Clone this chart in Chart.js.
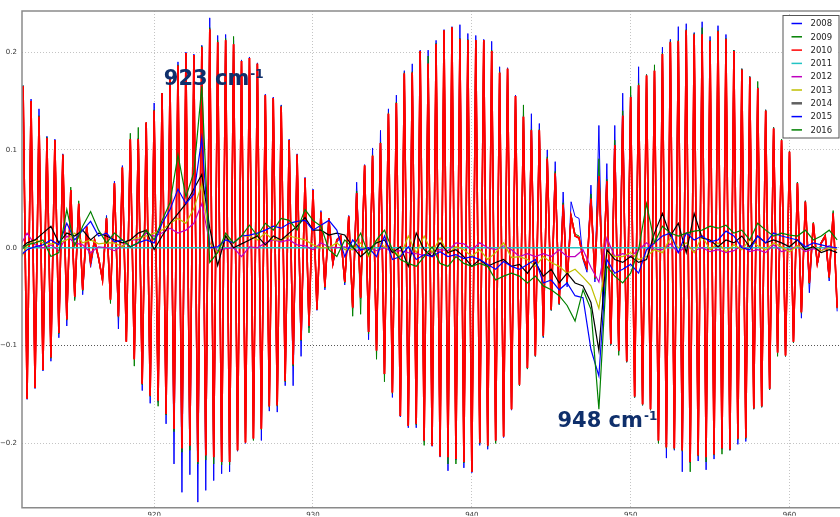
<!DOCTYPE html>
<html>
<head>
<meta charset="utf-8">
<script src="https://cdn.jsdelivr.net/npm/chart.js@4.4.0/dist/chart.umd.min.js"></script>
<style>
  html, body { margin: 0; padding: 0; background: #ffffff; overflow: hidden; }
  #wrap { position: relative; width: 840px; height: 517px; }
</style>
</head>
<body>
<div id="wrap"><canvas id="c" width="840" height="517"></canvas></div>
<script>
// ---------- DATA ----------
const seriesLabels = ['2008','2009','2010','2011','2012','2013','2014','2015','2016'];

// wavenumber grid (cm-1) of the oscillating series 2008-2010
const waveFine = [
  911.75,
  912,912.25,912.5,912.75, 913,913.25,913.5,913.75, 914,914.25,914.5,914.75, 915,915.25,915.5,915.75,
  916,916.25,916.5,916.75, 917,917.25,917.5,917.75, 918,918.25,918.5,918.75, 919,919.25,919.5,919.75,
  920,920.25,920.5,920.75, 921,921.25,921.5,921.75, 922,922.25,922.5,922.75, 923,923.25,923.5,923.75,
  924,924.25,924.5,924.75, 925,925.25,925.5,925.75, 926,926.25,926.5,926.75, 927,927.25,927.5,927.75,
  928,928.25,928.5,928.75, 929,929.25,929.5,929.75, 930,930.25,930.5,930.75, 931,931.25,931.5,931.75,
  932,932.25,932.5,932.75, 933,933.25,933.5,933.75, 934,934.25,934.5,934.75, 935,935.25,935.5,935.75,
  936,936.25,936.5,936.75, 937,937.25,937.5,937.75, 938,938.25,938.5,938.75, 939,939.25,939.5,939.75,
  940,940.25,940.5,940.75, 941,941.25,941.5,941.75, 942,942.25,942.5,942.75, 943,943.25,943.5,943.75,
  944,944.25,944.5,944.75, 945,945.25,945.5,945.75, 946,946.25,946.5,946.75, 947,947.25,947.5,947.75,
  948,948.25,948.5,948.75, 949,949.25,949.5,949.75, 950,950.25,950.5,950.75, 951,951.25,951.5,951.75,
  952,952.25,952.5,952.75, 953,953.25,953.5,953.75, 954,954.25,954.5,954.75, 955,955.25,955.5,955.75,
  956,956.25,956.5,956.75, 957,957.25,957.5,957.75, 958,958.25,958.5,958.75, 959,959.25,959.5,959.75,
  960,960.25,960.5,960.75, 961,961.25,961.5,961.75, 962,962.25,962.5,962.75,
  963
];

// wavenumber grid (cm-1) of the smoother series 2012-2016
const waveCoarse = [
  911.5,912,912.5,913,913.5,914,914.5,915,915.5,916,
  916.5,917,917.5,918,918.5,919,919.5,920,920.5,921,
  921.5,922,922.5,923,923.5,924,924.5,925,925.5,926,
  926.5,927,927.5,928,928.5,929,929.5,930,930.5,931,
  931.5,932,932.5,933,933.5,934,934.5,935,935.5,936,
  936.5,937,937.5,938,938.5,939,939.5,940,940.5,941,
  941.5,942,942.5,943,943.5,944,944.5,945,945.5,946,
  946.5,947,947.5,948,948.5,949,949.5,950,950.5,951,
  951.5,952,952.5,953,953.5,954,954.5,955,955.5,956,
  956.5,957,957.5,958,958.5,959,959.5,960,960.5,961,
  961.5,962,962.5,963
];

const waveEnds = [911.5, 963];

const y2008 = [
  0.166,
  -0.155,0.152,-0.144,0.142, -0.126,0.114,-0.116,0.111, -0.092,0.096,-0.080,0.058, -0.052,0.044,-0.048,0.018,
  -0.020,0.005,-0.012,-0.030, 0.033,-0.050,0.068,-0.083, 0.084,-0.095,0.110,-0.113, 0.112,-0.146,0.127,-0.159,
  0.148,-0.158,0.158,-0.180, 0.175,-0.221,0.190,-0.250, 0.200,-0.232,0.198,-0.260, 0.207,-0.248,0.235,-0.238,
  0.217,-0.231,0.218,-0.229, 0.212,-0.208,0.192,-0.200, 0.195,-0.196,0.189,-0.197, 0.157,-0.167,0.154,-0.168,
  0.146,-0.141,0.111,-0.141, 0.096,-0.111,0.072,-0.082, 0.060,-0.064,0.038,-0.043, 0.028,-0.018,0.006,0.010,
  -0.038,0.033,-0.062,0.067, -0.052,0.085,-0.094,0.102, -0.106,0.120,-0.130,0.142, -0.153,0.156,-0.173,0.181,
  -0.184,0.188,-0.184,0.202, -0.198,0.202,-0.203,0.212, -0.214,0.223,-0.228,0.226, -0.217,0.228,-0.225,0.219,
  -0.230,0.217,-0.202,0.213, -0.206,0.211,-0.198,0.185, -0.194,0.184,-0.166,0.156, -0.141,0.135,-0.124,0.137,
  -0.111,0.127,-0.092,0.100, -0.064,0.088,-0.058,0.057, -0.040,0.047,0.032,0.030, -0.012,-0.025,0.064,-0.035,
  0.125,-0.063,0.086,-0.099, 0.125,-0.106,0.158,-0.117, 0.156,-0.153,0.185,-0.161, 0.177,-0.166,0.182,-0.198,
  0.205,-0.215,0.213,-0.207, 0.226,-0.229,0.229,-0.220, 0.220,-0.218,0.231,-0.227, 0.216,-0.216,0.227,-0.206,
  0.218,-0.207,0.202,-0.201, 0.183,-0.198,0.175,-0.165, 0.164,-0.163,0.141,-0.145, 0.123,-0.108,0.111,-0.111,
  0.099,-0.097,0.067,-0.072, 0.048,-0.046,0.024,-0.018, 0.004,0.010,-0.034,0.036,
  -0.065
];

const y2009 = [
  0.166,
  -0.154,0.150,-0.143,0.135, -0.125,0.113,-0.113,0.110, -0.088,0.095,-0.074,0.062, -0.054,0.048,-0.044,0.021,
  -0.016,0.007,-0.011,-0.034, 0.031,-0.057,0.066,-0.071, 0.082,-0.096,0.117,-0.121, 0.123,-0.140,0.128,-0.152,
  0.141,-0.162,0.158,-0.171, 0.173,-0.188,0.187,-0.209, 0.199,-0.207,0.197,-0.221, 0.206,-0.217,0.225,-0.221,
  0.212,-0.222,0.214,-0.222, 0.216,-0.207,0.191,-0.199, 0.194,-0.197,0.188,-0.186, 0.156,-0.163,0.153,-0.162,
  0.145,-0.137,0.110,-0.121, 0.095,-0.095,0.071,-0.087, 0.059,-0.063,0.036,-0.041, 0.030,-0.017,0.008,0.011,
  -0.036,0.032,-0.070,0.058, -0.068,0.084,-0.088,0.095, -0.114,0.108,-0.137,0.138, -0.149,0.149,-0.172,0.179,
  -0.182,0.180,-0.181,0.201, -0.202,0.196,-0.202,0.209, -0.213,0.222,-0.221,0.225, -0.221,0.214,-0.220,0.213,
  -0.229,0.212,-0.200,0.212, -0.203,0.202,-0.200,0.180, -0.193,0.183,-0.165,0.155, -0.141,0.146,-0.124,0.121,
  -0.111,0.121,-0.091,0.093, -0.064,0.078,-0.058,0.046, -0.037,0.034,0.014,0.012, -0.011,-0.022,0.055,-0.032,
  0.091,-0.045,0.070,-0.099, 0.110,-0.110,0.140,-0.117, 0.165,-0.153,0.168,-0.161, 0.177,-0.166,0.187,-0.200,
  0.199,-0.205,0.211,-0.206, 0.212,-0.208,0.223,-0.229, 0.219,-0.213,0.225,-0.219, 0.212,-0.212,0.222,-0.211,
  0.214,-0.207,0.202,-0.196, 0.183,-0.195,0.175,-0.165, 0.170,-0.163,0.141,-0.145, 0.123,-0.111,0.111,-0.111,
  0.099,-0.097,0.067,-0.067, 0.048,-0.037,0.026,-0.017, 0.006,0.013,-0.031,0.038,
  -0.062
];

const y2010 = [
  0.165,
  -0.154,0.150,-0.143,0.134, -0.125,0.112,-0.112,0.110, -0.087,0.095,-0.073,0.059, -0.050,0.045,-0.043,0.022,
  -0.015,0.008,-0.010,-0.033, 0.030,-0.053,0.066,-0.070, 0.082,-0.096,0.111,-0.114, 0.111,-0.139,0.128,-0.151,
  0.140,-0.156,0.158,-0.170, 0.172,-0.185,0.186,-0.205, 0.199,-0.202,0.197,-0.219, 0.205,-0.212,0.223,-0.214,
  0.210,-0.219,0.212,-0.219, 0.208,-0.207,0.191,-0.199, 0.194,-0.195,0.188,-0.185, 0.156,-0.162,0.153,-0.161,
  0.144,-0.136,0.110,-0.119, 0.095,-0.094,0.071,-0.080, 0.059,-0.063,0.036,-0.040, 0.030,-0.016,0.008,0.012,
  -0.035,0.032,-0.061,0.056, -0.051,0.084,-0.086,0.094, -0.105,0.107,-0.129,0.137, -0.148,0.148,-0.172,0.178,
  -0.182,0.179,-0.180,0.201, -0.197,0.188,-0.202,0.208, -0.213,0.222,-0.214,0.225, -0.216,0.213,-0.219,0.212,
  -0.229,0.212,-0.199,0.212, -0.202,0.201,-0.197,0.179, -0.193,0.183,-0.165,0.155, -0.140,0.134,-0.123,0.120,
  -0.110,0.120,-0.090,0.091, -0.063,0.076,-0.057,0.044, -0.035,0.032,0.012,0.010, -0.010,-0.020,0.050,-0.030,
  0.073,-0.040,0.068,-0.098, 0.105,-0.105,0.135,-0.116, 0.154,-0.152,0.166,-0.160, 0.176,-0.165,0.181,-0.197,
  0.198,-0.204,0.210,-0.205, 0.211,-0.207,0.222,-0.219, 0.218,-0.212,0.218,-0.214, 0.211,-0.211,0.221,-0.205,
  0.213,-0.206,0.201,-0.195, 0.182,-0.194,0.174,-0.164, 0.163,-0.162,0.140,-0.144, 0.122,-0.107,0.110,-0.110,
  0.098,-0.096,0.066,-0.066, 0.047,-0.036,0.025,-0.016, 0.005,0.012,-0.030,0.035,
  -0.061
];

const y2011 = [0, 0];

const y2012 = [
  0.000,0.015,0.003,0.000,0.003,-0.003,0.012,0.005,0.003,-0.005,
  0.001,0.000,-0.003,0.002,0.008,0.008,0.015,0.012,0.015,0.020,
  0.015,0.018,0.025,0.045,0.005,-0.003,-0.001,0.000,-0.009,0.001,
  0.000,0.005,0.008,0.006,0.008,0.003,0.002,-0.002,0.005,0.001,
  0.000,0.001,-0.002,-0.003,0.000,-0.003,0.000,-0.004,-0.003,-0.005,
  -0.006,-0.008,-0.005,-0.002,-0.003,0.005,0.004,-0.002,0.005,0.000,
  -0.002,0.002,-0.002,-0.009,-0.006,-0.009,-0.006,-0.009,-0.002,-0.009,
  -0.009,-0.002,-0.020,-0.035,0.010,-0.009,-0.006,-0.009,-0.002,0.005,
  -0.002,-0.002,0.004,-0.005,0.002,-0.003,0.000,-0.004,-0.002,-0.005,
  -0.003,0.002,-0.004,-0.002,-0.005,0.003,-0.004,-0.002,0.002,-0.004,
  -0.001,-0.003,0.002,-0.002
];

const y2013 = [
  -0.015,0.002,0.008,0.005,0.004,0.005,0.008,0.015,0.005,0.008,
  0.004,0.005,0.005,0.001,0.008,0.010,0.012,0.015,0.018,0.025,
  0.030,0.025,0.040,0.065,0.005,-0.005,0.012,0.005,0.012,0.012,
  0.008,0.015,0.008,0.008,0.012,0.010,0.008,0.003,0.000,0.000,
  0.005,-0.002,-0.002,0.005,-0.009,0.008,0.001,-0.002,-0.009,0.012,
  -0.005,0.012,-0.005,0.010,-0.006,0.001,-0.002,-0.009,-0.002,-0.012,
  -0.005,0.005,-0.010,-0.009,-0.012,-0.019,-0.009,-0.015,-0.019,-0.026,
  -0.022,-0.030,-0.039,-0.062,-0.005,-0.009,-0.009,-0.005,-0.012,-0.009,
  -0.002,-0.005,0.010,0.000,0.005,-0.005,0.012,-0.002,0.005,-0.004,
  0.003,-0.002,0.008,0.002,-0.002,0.005,0.001,-0.004,0.002,-0.002,
  0.001,-0.003,0.000,-0.002
];

const y2014 = [
  -0.002,0.005,0.008,0.015,0.022,0.005,0.015,0.012,0.018,0.008,
  0.015,0.012,0.008,0.005,0.008,0.015,0.018,-0.002,0.012,0.025,
  0.035,0.045,0.060,0.075,0.020,-0.018,0.012,0.000,0.004,0.008,
  0.012,0.003,0.012,0.008,0.015,0.022,0.031,0.018,0.018,0.013,
  0.015,0.013,0.001,-0.009,-0.002,0.005,0.008,-0.005,0.001,-0.019,
  0.015,-0.002,-0.009,0.005,-0.005,-0.002,-0.009,-0.019,-0.012,-0.019,
  -0.015,-0.012,-0.019,-0.017,-0.026,-0.015,-0.029,-0.022,-0.036,-0.026,
  -0.036,-0.039,-0.056,-0.105,-0.002,-0.012,-0.015,-0.009,-0.015,-0.012,
  0.015,0.035,0.012,0.025,-0.005,0.035,0.010,0.008,0.001,0.008,
  0.005,0.012,0.001,0.012,0.005,0.008,0.005,0.001,0.008,-0.002,
  0.001,-0.005,-0.002,-0.005
];

const y2015 = [
  -0.009,-0.002,0.001,0.003,0.008,0.003,0.025,0.008,0.018,0.027,
  0.012,0.015,0.006,0.008,0.001,0.005,0.008,0.005,0.025,0.039,
  0.060,0.045,0.055,0.112,0.000,0.001,0.008,0.005,0.012,0.013,
  0.015,0.018,0.022,0.020,0.025,0.027,0.028,0.018,0.023,0.028,
  0.018,-0.009,0.008,-0.002,0.000,-0.009,0.012,-0.012,-0.009,0.001,
  -0.012,-0.007,-0.009,-0.004,-0.009,-0.007,-0.011,-0.009,-0.012,-0.017,
  -0.022,-0.014,-0.019,-0.022,-0.017,-0.012,-0.036,-0.033,-0.043,-0.036,
  -0.049,-0.051,-0.104,-0.131,-0.012,-0.026,-0.022,-0.017,-0.026,-0.002,
  0.005,0.012,0.015,-0.005,0.015,0.008,0.012,0.006,0.008,0.017,
  0.012,0.000,-0.002,0.012,0.005,0.015,0.012,0.010,0.008,0.001,
  0.005,0.003,0.001,0.000
];

const y2016 = [
  -0.004,0.003,0.005,0.008,-0.009,-0.005,0.039,0.002,0.022,0.037,
  0.018,0.005,0.015,0.008,0.001,0.005,0.018,0.008,0.028,0.046,
  0.095,0.052,0.077,0.165,-0.015,-0.005,0.015,0.005,0.012,0.023,
  0.012,0.025,0.018,0.030,0.028,0.018,0.039,0.028,0.022,-0.002,
  -0.009,0.008,0.000,0.015,-0.007,0.008,0.018,-0.002,-0.012,-0.016,
  -0.019,-0.009,0.001,-0.016,-0.019,-0.009,-0.016,-0.019,-0.016,-0.019,
  -0.033,-0.029,-0.026,-0.029,-0.036,-0.029,-0.039,-0.043,-0.049,-0.059,
  -0.075,-0.043,-0.063,-0.165,-0.019,-0.029,-0.036,-0.026,-0.002,0.045,
  0.005,0.022,0.015,0.012,0.015,0.017,0.018,0.022,0.020,0.023,
  0.015,0.018,0.008,0.025,0.018,0.012,0.015,0.013,0.012,0.018,
  0.008,0.012,0.018,0.008
];

const xTickValues = [920, 930, 940, 950, 960];
const yTickValues = [-0.2, -0.1, 0.0, 0.1, 0.2];
const yTickLabels = ['\u22120.2', '\u22120.1', '0.0', '0.1', '0.2'];

// ---------- STYLE ----------
const colors = ['#0000ff','#008000','#ff0000','#22c4c4','#bf00bf','#bfbf00','#000000','#0000ff','#008000'];
const widths = [1.0, 1.0, 1.5, 1.3, 1.2, 1.2, 1.2, 1.2, 1.2];
const legendColors = ['#0000ff','#008000','#ff0000','#22c4c4','#bf00bf','#bfbf00','#606060','#0000ff','#008000'];
const annotationStyle = { color: '#0f2f6b', font: 'bold 21px "DejaVu Sans"', supFont: 'bold 12px "DejaVu Sans"' };
const annotations = [
  { text: '923 cm', sup: '-1', x: 920.61, y: 0.1663 },
  { text: '948 cm', sup: '-1', x: 945.39, y: -0.1835 }
];

function pts(xs, ys) { return ys.map((v, i) => ({ x: xs[i], y: v })); }

const seriesData = [
  pts(waveFine, y2008), pts(waveFine, y2009), pts(waveFine, y2010),
  pts(waveEnds, y2011),
  pts(waveCoarse, y2012), pts(waveCoarse, y2013), pts(waveCoarse, y2014),
  pts(waveCoarse, y2015), pts(waveCoarse, y2016)
];

const datasets = seriesLabels.map((lab, i) => ({
  label: lab,
  data: seriesData[i],
  borderColor: colors[i],
  backgroundColor: colors[i],
  borderWidth: widths[i],
  pointRadius: 0,
  tension: 0,
  fill: false,
  order: seriesLabels.length - i
}));

// repaint the 2010 line so its antialiased edges fully hide the near-identical 2008/2009 lines below it
const densifyPlugin = {
  id: 'densify2010',
  afterDatasetDraw(chart, args) {
    if (args.index !== 2) return;
    const ctx = chart.ctx, a = chart.chartArea;
    ctx.save();
    ctx.beginPath();
    ctx.rect(a.left, a.top, a.right - a.left, a.bottom - a.top);
    ctx.clip();
    args.meta.controller.draw();
    args.meta.controller.draw();
    ctx.restore();
  }
};

const framePlugin = {
  id: 'frameAndText',
  afterDatasetsDraw(chart) {
    const ctx = chart.ctx, a = chart.chartArea;
    const xs = chart.scales.x, ys = chart.scales.y;
    ctx.save();
    ctx.fillStyle = annotationStyle.color;
    ctx.textBaseline = 'alphabetic';
    ctx.textAlign = 'left';
    annotations.forEach(an => {
      const px = xs.getPixelForValue(an.x), py = ys.getPixelForValue(an.y);
      ctx.font = annotationStyle.font;
      ctx.fillText(an.text, px, py);
      const w = ctx.measureText(an.text).width;
      ctx.font = annotationStyle.supFont;
      ctx.fillText(an.sup, px + w + 1, py - 7);
    });
    ctx.restore();
    ctx.save();
    ctx.strokeStyle = '#8a8a8a';
    ctx.lineWidth = 1.5;
    ctx.beginPath();
    ctx.moveTo(a.right + 5, a.top);
    ctx.lineTo(a.left, a.top);
    ctx.lineTo(a.left, a.bottom);
    ctx.lineTo(a.right + 5, a.bottom);
    ctx.stroke();
    ctx.restore();
  },
  afterDraw(chart) {
    const ctx = chart.ctx, a = chart.chartArea;
    const bx = a.right - 57.5, by = a.top + 4, bw = 56, bh = 122.5;
    ctx.save();
    ctx.fillStyle = '#ffffff';
    ctx.fillRect(bx, by, bw, bh);
    ctx.strokeStyle = '#555555';
    ctx.lineWidth = 1;
    ctx.strokeRect(bx + 0.5, by + 0.5, bw, bh);
    ctx.font = '8.5px "DejaVu Sans"';
    ctx.textBaseline = 'middle';
    ctx.textAlign = 'left';
    chart.data.datasets.forEach((ds, i) => {
      const cy = by + 8.5 + i * 13.3;
      ctx.strokeStyle = legendColors[i];
      ctx.lineWidth = (i === 6) ? 2.5 : 1.5;
      ctx.beginPath();
      ctx.moveTo(bx + 9, cy);
      ctx.lineTo(bx + 19.5, cy);
      ctx.stroke();
      ctx.fillStyle = '#222222';
      ctx.fillText(ds.label, bx + 28, cy + 0.5);
    });
    ctx.restore();
  }
};

new Chart(document.getElementById('c'), {
  type: 'line',
  data: { datasets },
  plugins: [densifyPlugin, framePlugin],
  options: {
    responsive: false,
    animation: false,
    devicePixelRatio: 1,
    layout: { padding: { top: 11, left: 0, right: 0, bottom: 0 } },
    plugins: { legend: { display: false }, tooltip: { enabled: false } },
    scales: {
      x: {
        type: 'linear',
        min: 911.68,
        max: 963.18,
        afterBuildTicks: s => { s.ticks = xTickValues.map(v => ({ value: v })); },
        afterFit: s => { s.height = 8; },
        ticks: {
          padding: 3,
          font: { family: 'DejaVu Sans', size: 7 },
          color: '#333333',
          maxRotation: 0,
          callback: v => String(v)
        },
        grid: { color: '#c4c4c4', lineWidth: 1, drawTicks: false },
        border: { display: false, dash: [1, 2] }
      },
      y: {
        type: 'linear',
        min: -0.2658,
        max: 0.2420,
        afterBuildTicks: s => { s.ticks = yTickValues.map(v => ({ value: v })); },
        afterFit: s => { s.width = 22; },
        ticks: {
          padding: 5,
          font: { family: 'DejaVu Sans', size: 7 },
          color: '#333333',
          callback: (v) => {
            const i = yTickValues.findIndex(t => Math.abs(t - v) < 1e-9);
            return i >= 0 ? yTickLabels[i] : '';
          }
        },
        grid: {
          color: ctx => (ctx.tick && Math.abs(ctx.tick.value + 0.1) < 1e-9) ? '#555555' : '#c4c4c4',
          lineWidth: 1,
          drawTicks: false
        },
        border: { display: false, dash: [1, 2] }
      }
    }
  }
});
</script>
</body>
</html>
